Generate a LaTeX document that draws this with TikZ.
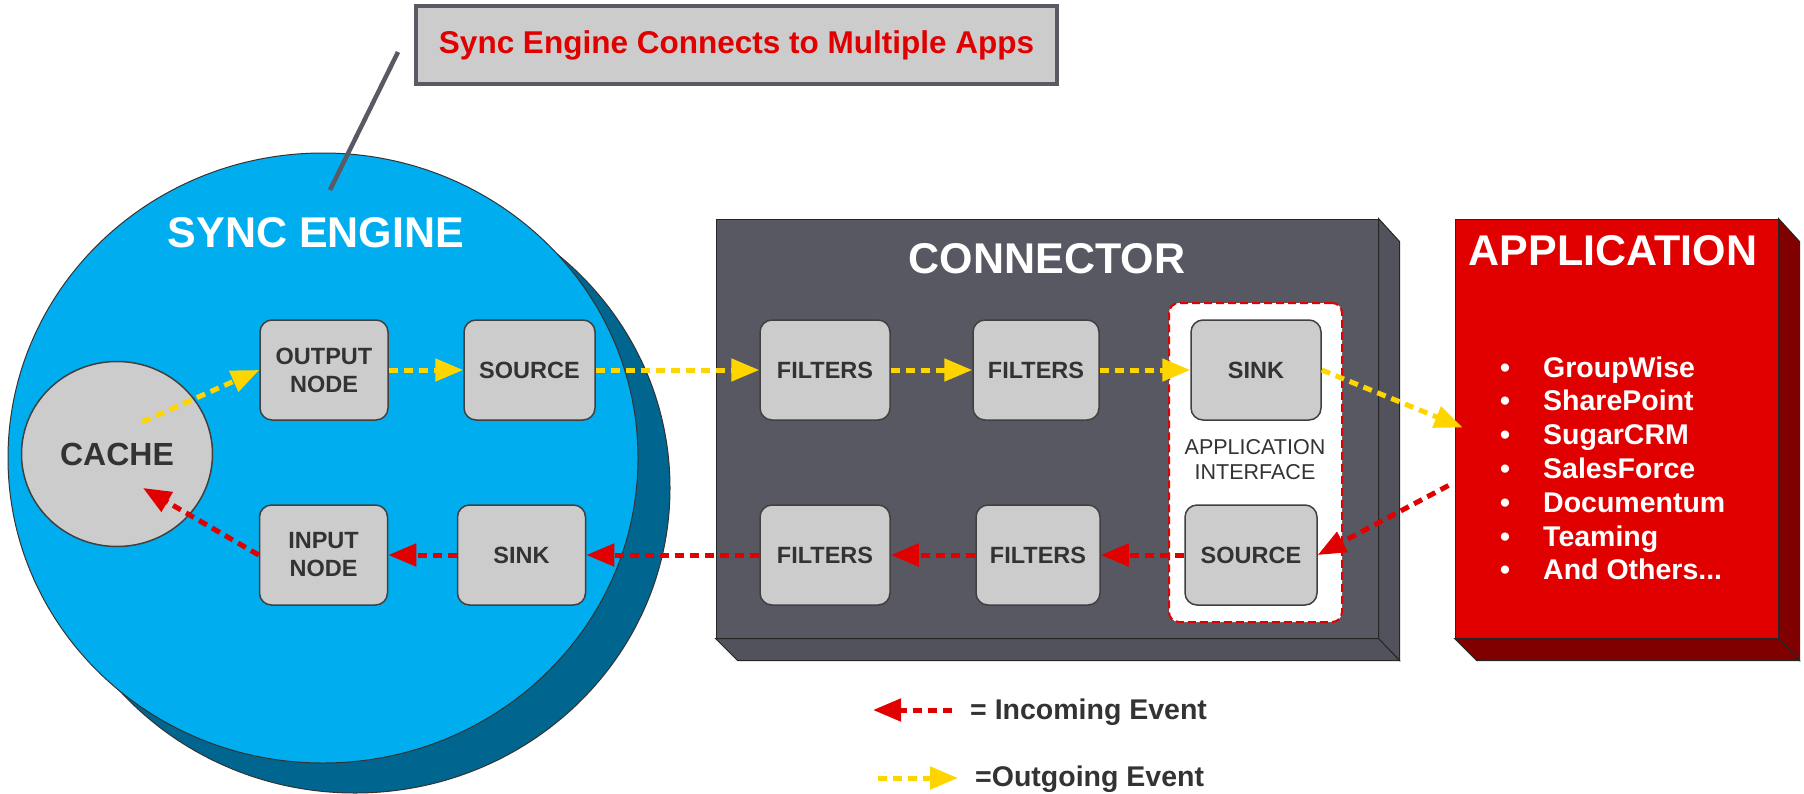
\documentclass[tikz,border=0pt]{standalone}
\usepackage{fontspec}
\setmainfont{Liberation Sans}
\usetikzlibrary{arrows.meta,shapes.geometric,calc}
\definecolor{cyanfill}{HTML}{00AEEF}
\definecolor{cyanshadow}{HTML}{00668F}
\definecolor{boxgray}{HTML}{CCCCCC}
\definecolor{textgray}{HTML}{333333}
\definecolor{congray}{HTML}{585862}
\definecolor{conside}{HTML}{52525C}
\definecolor{appred}{HTML}{E00000}
\definecolor{appdark}{HTML}{800000}
\definecolor{evyellow}{HTML}{FFD500}
\definecolor{evred}{HTML}{E00000}
\definecolor{callborder}{HTML}{5A5A64}
\newcommand\myfs[2]{\fontsize{#1}{#2}\selectfont}
\begin{document}
\begin{tikzpicture}[x=1pt,y=-1pt,
  procbox/.style={rectangle, rounded corners=12pt, fill=boxgray, draw=black!75, line width=1.5pt,
    minimum width=128pt, minimum height=100pt, inner sep=0pt, align=center, text=textgray,
    font=\myfs{23.5}{28}\bfseries},
  outev/.style={draw=evyellow, line width=5pt, dash pattern=on 9pt off 6pt,
    -{Triangle[length=28pt,width=22pt]}},
  inev/.style={draw=evred, line width=5pt, dash pattern=on 9pt off 6pt,
    -{Triangle[length=28pt,width=22pt]}},
  titletext/.style={text=white, font=\myfs{43}{50}\bfseries, inner sep=0pt},
  face/.style={draw=black!85, line width=1pt},
  listtext/.style={text=white, font=\myfs{28.5}{33}\bfseries, inner sep=0pt},
  legendtext/.style={text=textgray, font=\myfs{28.5}{34}\bfseries, inner sep=0pt, anchor=west}
]
\useasboundingbox (0,0) rectangle (1804,793);

% ---------- Sync engine ----------
\node[ellipse, fill=cyanshadow, draw=black!80, line width=1pt, minimum width=630pt,
  minimum height=610pt, inner sep=0pt] (engsh) at (355,488) {};
\node[ellipse, fill=cyanfill, draw=black!80, line width=1pt, minimum width=630pt,
  minimum height=610pt, inner sep=0pt] (eng) at (323,458) {};
\node[titletext] (engtitle) at (316,233) {SYNC ENGINE};
\node[ellipse, fill=boxgray, draw=black!75, line width=1.5pt, minimum width=191pt,
  minimum height=185pt, inner sep=0pt, text=textgray, font=\myfs{32}{38}\bfseries] (cache) at (117,454) {CACHE};

\node[procbox] (outnode) at (324,370) {OUTPUT\\NODE};
\node[procbox, minimum width=131pt] (esrc) at (529.5,370) {SOURCE};
\node[procbox] (inode) at (323.5,555) {INPUT\\NODE};
\node[procbox] (esink) at (521.5,555) {SINK};

% ---------- Connector ----------
\node[rectangle, fill=congray, face, minimum width=662pt, minimum height=419pt, inner sep=0pt] (con) at (1047,428.5) {};
\filldraw[fill=conside, face] (con.north east) -- ++(21,23) -- ($(con.south east)+(21,22)$) -- (con.south east) -- cycle;
\filldraw[fill=conside, face] (con.south west) -- ++(22,22) -- ($(con.south east)+(21,22)$) -- (con.south east) -- cycle;
\node[titletext] (contitle) at (1047,259) {CONNECTOR};

\node[rectangle, rounded corners=10pt, fill=white, draw=evred, line width=2pt,
  dash pattern=on 8pt off 4pt, minimum width=173pt, minimum height=319pt, inner sep=0pt] (api) at (1255.5,462.5) {};
\node[text=textgray, font=\myfs{21.5}{25}, align=center, inner sep=0pt] (apitxt) at (1255,460) {APPLICATION\\INTERFACE};

\node[procbox, minimum width=130pt] (f1) at (825,370) {FILTERS};
\node[procbox, minimum width=126pt] (f2) at (1036,370) {FILTERS};
\node[procbox, minimum width=130pt] (csink) at (1256,370) {SINK};
\node[procbox, minimum width=130pt] (f3) at (825,555) {FILTERS};
\node[procbox, minimum width=124pt] (f4) at (1038,555) {FILTERS};
\node[procbox, minimum width=132pt] (csrc) at (1251,555) {SOURCE};

% ---------- Application ----------
\node[rectangle, fill=appred, face, minimum width=323pt, minimum height=419pt, inner sep=0pt] (app) at (1616.5,428.5) {};
\filldraw[fill=appdark, face] (app.north east) -- ++(21,23) -- ($(app.south east)+(21,22)$) -- (app.south east) -- cycle;
\filldraw[fill=appdark, face] (app.south west) -- ++(22,22) -- ($(app.south east)+(21,22)$) -- (app.south east) -- cycle;
\node[titletext] (apptitle) at (1613,251) {APPLICATION};

\node[listtext, anchor=base] (b1) at (1505,377) {•};
\node[listtext, anchor=base west] (i1) at (1543,377) {GroupWise};
\node[listtext, anchor=base] (b2) at (1505,410.8) {•};
\node[listtext, anchor=base west] (i2) at (1543,410.8) {SharePoint};
\node[listtext, anchor=base] (b3) at (1505,444.6) {•};
\node[listtext, anchor=base west] (i3) at (1543,444.6) {SugarCRM};
\node[listtext, anchor=base] (b4) at (1505,478.4) {•};
\node[listtext, anchor=base west] (i4) at (1543,478.4) {SalesForce};
\node[listtext, anchor=base] (b5) at (1505,512.2) {•};
\node[listtext, anchor=base west] (i5) at (1543,512.2) {Documentum};
\node[listtext, anchor=base] (b6) at (1505,546) {•};
\node[listtext, anchor=base west] (i6) at (1543,546) {Teaming};
\node[listtext, anchor=base] (b7) at (1505,579.8) {•};
\node[listtext, anchor=base west] (i7) at (1543,579.8) {And Others...};

% ---------- Event arrows ----------
\coordinate (cacheout) at ($(cache.center)+(25,-32)$);
\coordinate (cachein) at ($(cache.center)+(26,34)$);
\coordinate (appin) at ($(app.west)+(8,-1)$);
\coordinate (appout) at ($(app.west)+(-6,57)$);

\draw[outev] (cacheout) -- (outnode.west);
\draw[outev] (outnode.east) -- (esrc.west);
\draw[outev] (esrc.east) -- (f1.west);
\draw[outev] (f1.east) -- (f2.west);
\draw[outev] (f2.east) -- (csink.west);
\draw[outev] (csink.east) -- (appin);

\draw[inev] (appout) -- (csrc.east);
\draw[inev] (csrc.west) -- (f4.east);
\draw[inev] (f4.west) -- (f3.east);
\draw[inev] (f3.west) -- (esink.east);
\draw[inev] (esink.west) -- (inode.east);
\draw[inev] (inode.west) -- (cachein);

% ---------- Callout ----------
\node[rectangle, fill=boxgray, draw=callborder, line width=4.5pt, minimum width=641pt,
  minimum height=78pt, inner sep=0pt, text=appred, font=\myfs{31.5}{36}\bfseries] (callout) at (736.5,45) {Sync Engine Connects to Multiple Apps};
\coordinate (clA) at (398,52);
\coordinate (clB) at (330,190);
\draw[callborder, line width=4.5pt] (clA) -- (clB);

% ---------- Legend ----------
\coordinate (lgRa) at (952,710);
\coordinate (lgRb) at (873,710);
\draw[inev] (lgRa) -- (lgRb);
\node[legendtext] (lgRt) at (970,712) {= Incoming Event};
\coordinate (lgYa) at (878,778);
\coordinate (lgYb) at (958,778);
\draw[outev] (lgYa) -- (lgYb);
\node[legendtext] (lgYt) at (975,779) {=Outgoing Event};
\end{tikzpicture}
\end{document}
